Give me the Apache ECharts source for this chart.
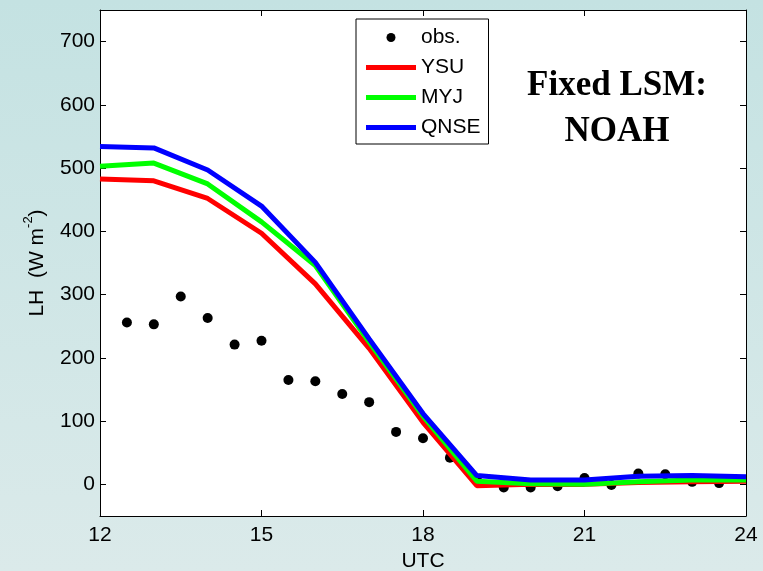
<!DOCTYPE html>
<html>
<head>
<meta charset="utf-8">
<script src="https://cdn.jsdelivr.net/npm/echarts@6/dist/echarts.min.js"></script>
<style>
html,body{margin:0;padding:0;}
#c{width:763px;height:571px;background:linear-gradient(180deg,#c4e2e2 0%,#dbeaea 100%);}
</style>
</head>
<body>
<div id="c"></div>
<script>
var hours = [12,13,14,15,16,17,18,19,20,21,22,23,24];
var ysu  = [483,480,452,397,317,215,98,-2,0,0,3,4,5];
var myj  = [503,508,475,415,346,225,108,5,1,0,4,7,7];
var qnse = [534,532,497,440,351,230,112,14,7,7,13,14,12];
var obsTimes = [12.5,13,13.5,14,14.5,15,15.5,16,16.5,17,17.5,18,18.5,19,19.5,20,20.5,21,21.5,22,22.5,23,23.5];
var obsVals  = [256,253,297,263,221,227,165,163,143,130,83,73,42,8,-5,-5,-3,10,-1,17,16,4,2];
var xTicks = [12,15,18,21,24];
var yTicks = [0,100,200,300,400,500,600,700];

function pairs(xs, ys){ return xs.map(function(x,i){return [x, ys[i]];}); }

var chart = echarts.init(document.getElementById('c'), null, {renderer:'canvas'});
var font = "'Liberation Sans', Arial, sans-serif";
var lineIcon = 'path://M0,0 L50,0 L50,5 L0,5 Z';
var axisCommon = {
  axisLine:{show:true, onZero:false, lineStyle:{color:'#000', width:1}},
  splitLine:{show:false}
};
chart.setOption({
  animation:false,
  backgroundColor:'transparent',
  grid:{left:100, right:17, top:10, bottom:55, show:true, backgroundColor:'#fff', borderWidth:0,
    containLabel:false, outerBoundsMode:'none'},
  xAxis:[
    Object.assign({type:'value', min:12, max:24, interval:3, position:'bottom',
      axisTick:{show:true, inside:true, length:6, lineStyle:{color:'#000'}},
      axisLabel:{fontFamily:font, fontSize:21, color:'#000', margin:9},
      name:'UTC', nameLocation:'middle', nameGap:35,
      nameTextStyle:{fontFamily:font, fontSize:21, color:'#000'}}, axisCommon),
    Object.assign({type:'value', min:12, max:24, interval:3, position:'top',
      axisTick:{show:true, inside:true, length:6, lineStyle:{color:'#000'}},
      axisLabel:{show:false}}, axisCommon)
  ],
  yAxis:[
    Object.assign({type:'value', min:-50, max:750, position:'left',
      axisTick:{show:true, inside:true, length:6, customValues:yTicks, lineStyle:{color:'#000'}},
      axisLabel:{fontFamily:font, fontSize:21, color:'#000', margin:5, customValues:yTicks},
      name:'{a|LH  (W m}{s|-2}{a|)}', nameLocation:'middle', nameGap:52, nameRotate:90,
      nameTextStyle:{fontFamily:font, color:'#000',
        rich:{a:{fontFamily:font, fontSize:21, color:'#000', lineHeight:26, verticalAlign:'bottom'},
              s:{fontFamily:font, fontSize:13, color:'#000', lineHeight:26, verticalAlign:'top'}}}}, axisCommon),
    Object.assign({type:'value', min:-50, max:750, position:'right',
      axisTick:{show:true, inside:true, length:6, customValues:yTicks, lineStyle:{color:'#000'}},
      axisLabel:{show:false}}, axisCommon)
  ],
  legend:{
    orient:'vertical', left:356, top:19,
    backgroundColor:'#fff', borderColor:'#000', borderWidth:1,
    padding:[8,8,6,10], itemGap:9, itemWidth:50, itemHeight:9,
    textStyle:{fontFamily:font, fontSize:21, color:'#000'},
    data:[
      {name:'obs.', icon:'circle'},
      {name:'YSU', icon:lineIcon},{name:'MYJ', icon:lineIcon},{name:'QNSE', icon:lineIcon}
    ]
  },
  series:[
    {name:'obs.', type:'scatter', data:pairs(obsTimes, obsVals), symbol:'circle', symbolSize:10,
      itemStyle:{color:'#000', opacity:1}, z:1},
    {name:'YSU', type:'line', data:pairs(hours, ysu), symbol:'none', lineStyle:{color:'#ff0000', width:5}, itemStyle:{color:'#ff0000'}, z:2},
    {name:'MYJ', type:'line', data:pairs(hours, myj), symbol:'none', lineStyle:{color:'#00ff00', width:5}, itemStyle:{color:'#00ff00'}, z:3},
    {name:'QNSE', type:'line', data:pairs(hours, qnse), symbol:'none', lineStyle:{color:'#0000ff', width:5}, itemStyle:{color:'#0000ff'}, z:4}
  ],
  graphic:[
    {type:'text', x:617, y:68, style:{text:'Fixed LSM:', fontFamily:"'Liberation Serif','DejaVu Serif',serif", fontWeight:'bold', fontSize:35, fill:'#000', align:'center', verticalAlign:'top'}},
    {type:'text', x:617, y:114, style:{text:'NOAH', fontFamily:"'Liberation Serif','DejaVu Serif',serif", fontWeight:'bold', fontSize:35, fill:'#000', align:'center', verticalAlign:'top'}}
  ]
});
</script>
</body>
</html>
